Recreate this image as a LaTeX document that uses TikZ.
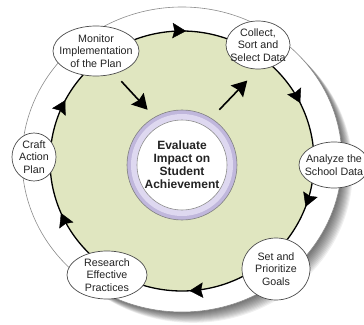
\documentclass[tikz,border=0pt]{standalone}
\usepackage{fontspec}
\setmainfont{Liberation Sans}
\usepackage{tikz}
\usetikzlibrary{shapes.geometric}
\usetikzlibrary{arrows.meta, decorations.markings, calc}

\definecolor{ringgreen}{RGB}{224,230,192}
\definecolor{lavender}{RGB}{192,183,220}
\definecolor{lavenderlight}{RGB}{222,216,240}
\definecolor{textgray}{RGB}{35,35,35}

\begin{document}
\begin{tikzpicture}[x=1pt, y=1pt,
    stage/.style={ellipse, draw=black!70, fill=white, line width=0.7pt, inner sep=0pt},
    every label/.style={align=center, text=textgray, font=\fontsize{10.7}{12.5}\selectfont},
    tip/.style={-{Stealth[length=15pt, width=17pt, inset=2pt]}, line width=1.6pt},
    ringmarks/.style={decorate, decoration={markings,
        mark=at position 0.072 with {\arrowreversed{Stealth[length=15pt, width=17pt, inset=2pt]}},
        mark=at position 0.244 with {\arrowreversed{Stealth[length=15pt, width=17pt, inset=2pt]}},
        mark=at position 0.422 with {\arrowreversed{Stealth[length=15pt, width=17pt, inset=2pt]}},
        mark=at position 0.564 with {\arrowreversed{Stealth[length=15pt, width=17pt, inset=2pt]}},
        mark=at position 0.758 with {\arrowreversed{Stealth[length=15pt, width=17pt, inset=2pt]}},
        mark=at position 0.942 with {\arrowreversed{Stealth[length=15pt, width=17pt, inset=2pt]}}}}]
    \clip (-182,-163) rectangle (182,161);
    \fill[white] (-182,-163) rectangle (182,161);

    % Shadow and rings
    \foreach \k in {1,...,12}
        \fill[black, opacity=0.06] (\k*0.9, 1.5-\k*0.9) ellipse [x radius=160, y radius=152.5];
    \filldraw[fill=white, draw=black!45, line width=0.6pt] (0,1.5) ellipse [x radius=160, y radius=152.5];
    \filldraw[fill=ringgreen, draw=black, line width=1.3pt] (0,0) ellipse [x radius=132, y radius=130];
    \path[ringmarks, line width=1.3pt] (0,0) ellipse [x radius=132, y radius=130];

    % Centre
    \node[circle, minimum size=110, inner sep=0pt, fill=lavender, draw=black!50, line width=0.6pt] (eval) at (0,-4) {};
    \fill[lavenderlight] (eval.center) circle (51);
    \node[circle, minimum size=90, inner sep=0pt, fill=white, draw=black!45, line width=0.6pt,
        align=center, text=textgray, font=\bfseries\fontsize{12}{13}\selectfont] (evaltxt) at (eval) {Evaluate\\Impact on\\Student\\Achievement};

    % Nodes
    \node[stage, minimum width=86, minimum height=50, label={center:Monitor\\Implementation\\of the Plan}] (monitor) at (-86,110) {};
    \node[stage, minimum width=64, minimum height=48, label={center:Collect,\\Sort and\\Select Data}] (collect) at (76,116) {};
    \node[stage, minimum width=70, minimum height=46, label={center:Analyze the\\School Data}] (analyze) at (152,-4) {};
    \node[stage, minimum width=68, minimum height=62, label={center:Set and\\Prioritize\\Goals}] (goals) at (94,-108) {};
    \node[stage, minimum width=80, minimum height=48, label={center:Research\\Effective\\Practices}] (research) at (-75,-114) {};
    \node[stage, minimum width=44, minimum height=48, label={center:Craft\\Action\\Plan}] (craft) at (-148,4) {};

    % Edges
    \draw[tip, shorten <=10pt, shorten >=10pt] (monitor.309) -- (eval.120);
    \draw[tip, shorten <=11.6pt, shorten >=15.5pt] (eval.58) -- (collect.south);

\end{tikzpicture}
\end{document}
